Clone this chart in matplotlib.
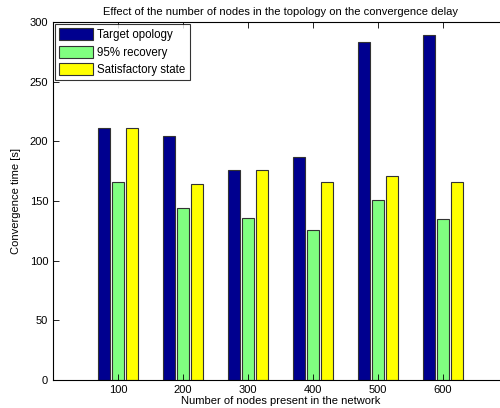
import numpy as np
import matplotlib
matplotlib.use("Agg")
import matplotlib.pyplot as plt

plt.rcParams["font.family"] = ["Liberation Sans", "DejaVu Sans"]

nodes = ["100", "200", "300", "400", "500", "600"]
target = [211, 205, 176, 187, 283, 289]
recovery = [166, 144, 136, 126, 151, 135]
satisfactory = [211, 164, 176, 166, 171, 166]

x = np.arange(1, len(nodes) + 1)
w = 0.18
off = 0.22

fig = plt.figure(figsize=(5, 4.08), dpi=100)
ax = fig.add_axes([0.106, 0.0686, 0.91, 0.877])

ax.bar(x - off, target, w, color="#00008F", edgecolor="#333333", linewidth=0.8, label="Target opology")
ax.bar(x, recovery, w, color="#80FF80", edgecolor="#333333", linewidth=0.8, label="95% recovery")
ax.bar(x + off, satisfactory, w, color="#FFFF00", edgecolor="#333333", linewidth=0.8, label="Satisfactory state")

ax.set_xlim(0, 7)
ax.set_ylim(0, 300)
ax.set_xticks(x)
ax.set_xticklabels(nodes)
ax.set_yticks(np.arange(0, 301, 50))
ax.tick_params(direction="in", labelsize=8, top=True, right=True, length=4, width=0.6)
for s in ax.spines.values():
    s.set_linewidth(0.8)

ax.set_title("Effect of the number of nodes in the topology on the convergence delay", fontsize=8, pad=5)
ax.set_xlabel("Number of nodes present in the network", fontsize=8, labelpad=1)
ax.set_ylabel("Convergence time [s]", fontsize=8, labelpad=6)

leg = ax.legend(loc="upper left", fontsize=8.3, fancybox=False, edgecolor="black",
                borderaxespad=0.15, handlelength=3.0, handleheight=1.25,
                labelspacing=0.4, borderpad=0.35, handletextpad=0.35)
leg.get_frame().set_linewidth(0.8)

fig.savefig("out.png", dpi=100)
